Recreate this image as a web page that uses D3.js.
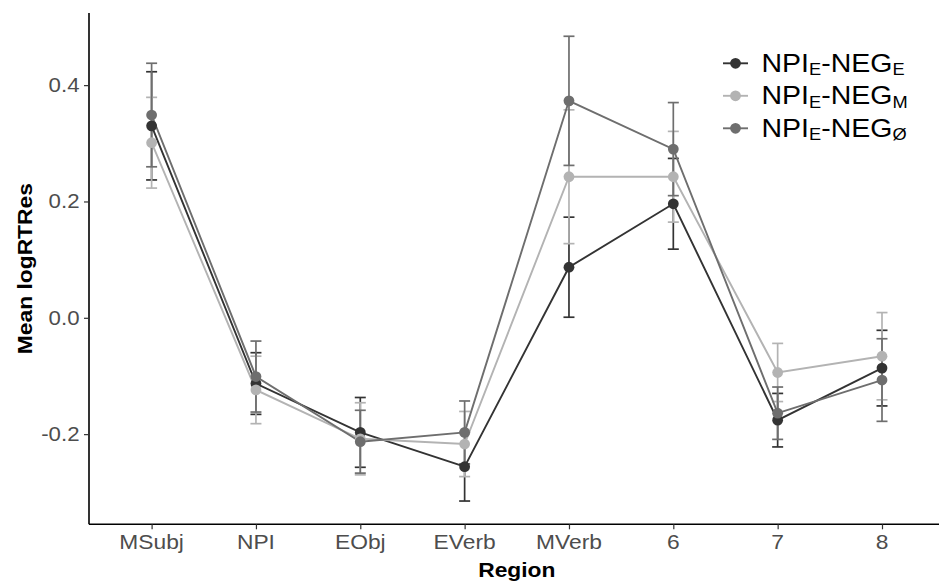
<!DOCTYPE html>
<html>
<head>
<meta charset="utf-8">
<script src="https://cdn.jsdelivr.net/npm/d3@7"></script>
<style>
  body { margin: 0; background: #fff; }
  text { font-family: "Liberation Sans", Arial, sans-serif; }
</style>
</head>
<body>
<svg width="939" height="581"></svg>
<script>
// regions on the x axis
var regions = ["MSubj", "NPI", "EObj", "EVerb", "MVerb", "6", "7", "8"];

// means and standard errors per condition
var meanE = [0.330, -0.113, -0.197, -0.256, 0.087, 0.196, -0.176, -0.0865];
var seE   = [0.093, 0.053, 0.060, 0.059, 0.086, 0.078, 0.046, 0.065];
var meanM = [0.301, -0.124, -0.208, -0.217, 0.2425, 0.2425, -0.094, -0.066];
var seM   = [0.078, 0.058, 0.062, 0.056, 0.115, 0.078, 0.050, 0.075];
var meanO = [0.3486, -0.101, -0.213, -0.197, 0.373, 0.290, -0.164, -0.107];
var seO   = [0.089, 0.061, 0.054, 0.054, 0.111, 0.080, 0.045, 0.071];

var subs = ["E", "M", "\u00D8"];
var yTicks = [-0.2, 0.0, 0.2, 0.4];

var series = [
    { sub: subs[0], mean: meanE, se: seE, color: "#333333" },
    { sub: subs[1], mean: meanM, se: seM, color: "#b3b3b3" },
    { sub: subs[2], mean: meanO, se: seO, color: "#6e6e6e" }
];

var svg = d3.select("svg"),
    width = +svg.attr("width"),
    height = +svg.attr("height");

var sx = 1.14; // text looks stretched a bit horizontally in the original

// panel edges (window.top is reserved, so no "top" here)
var pLeft = 89, pRight = 944.6, pTop = 13, pBottom = 524.3;

var x = d3.scalePoint()
    .domain(regions)
    .range([pLeft, pRight])
    .padding(0.6);

var y = d3.scaleLinear()
    .domain([-0.355, 0.524])
    .range([pBottom, pTop]);

// error bars
series.forEach(function (s) {
    var g = svg.append("g");
    regions.forEach(function (r, i) {
        var cx = x(r), lo = y(s.mean[i] - s.se[i]), hi = y(s.mean[i] + s.se[i]);
        g.append("line").attr("x1", cx).attr("x2", cx).attr("y1", lo).attr("y2", hi)
            .style("stroke", s.color).style("stroke-width", 1.7);
        g.append("line").attr("x1", cx - 5.5).attr("x2", cx + 5.5).attr("y1", lo).attr("y2", lo)
            .style("stroke", s.color).style("stroke-width", 1.7);
        g.append("line").attr("x1", cx - 5.5).attr("x2", cx + 5.5).attr("y1", hi).attr("y2", hi)
            .style("stroke", s.color).style("stroke-width", 1.7);
    });
});

// lines
var line = d3.line()
    .x(function (d, i) { return x(regions[i]); })
    .y(function (d) { return y(d); });

series.forEach(function (s) {
    svg.append("path")
        .attr("d", line(s.mean))
        .style("fill", "none")
        .style("stroke", s.color)
        .style("stroke-width", 1.9);
});

// points
series.forEach(function (s) {
    svg.append("g")
        .selectAll("circle")
        .data(s.mean)
        .enter().append("circle")
        .attr("cx", function (d, i) { return x(regions[i]); })
        .attr("cy", function (d) { return y(d); })
        .attr("r", 5.4)
        .style("fill", s.color);
});

// axes
var xAxis = svg.append("g")
    .attr("transform", "translate(0," + pBottom + ")")
    .call(d3.axisBottom(x).tickSize(5).tickSizeOuter(0));
xAxis.select(".domain").attr("d", "M" + pLeft + ",0H" + width)
    .style("stroke", "#000").style("stroke-width", 1.6);
xAxis.selectAll(".tick line").style("stroke", "#333").style("stroke-width", 1.2);
xAxis.selectAll(".tick text").remove();

var yAxis = svg.append("g")
    .attr("transform", "translate(" + pLeft + ",0)")
    .call(d3.axisLeft(y).tickValues(yTicks).tickSize(5).tickSizeOuter(0));
yAxis.select(".domain").attr("d", "M0," + pTop + "V" + pBottom)
    .style("stroke", "#000").style("stroke-width", 1.6);
yAxis.selectAll(".tick line").style("stroke", "#333").style("stroke-width", 1.2);
yAxis.selectAll(".tick text").remove();

// tick labels (drawn by hand so they can be stretched)
regions.forEach(function (r) {
    svg.append("text")
        .attr("transform", "translate(" + x(r) + ",549) scale(" + sx + ",1)")
        .attr("text-anchor", "middle")
        .style("font-size", "20px")
        .style("fill", "#4d4d4d")
        .text(r);
});
yTicks.forEach(function (t) {
    svg.append("text")
        .attr("transform", "translate(79.5," + (y(t) + 6.8) + ") scale(" + sx + ",1)")
        .attr("text-anchor", "end")
        .style("font-size", "19.5px")
        .style("fill", "#4d4d4d")
        .text(t.toFixed(1)); // plain hyphen for negatives, as in the original
});

// axis titles
svg.append("text")
    .attr("transform", "translate(" + ((pLeft + pRight) / 2) + ",576.5) scale(" + sx + ",1)")
    .attr("text-anchor", "middle")
    .style("font-size", "20px")
    .style("font-weight", "bold")
    .text("Region");

svg.append("text")
    .attr("transform", "translate(31.5," + ((pTop + pBottom) / 2) + ") rotate(-90) scale(" + sx + ",1)")
    .attr("text-anchor", "middle")
    .style("font-size", "20px")
    .style("font-weight", "bold")
    .text("Mean logRTRes");

// legend
var legendY = [63.3, 95.8, 128.3];
series.forEach(function (s, i) {
    var g = svg.append("g").attr("transform", "translate(0," + legendY[i] + ")");
    g.append("line").attr("x1", 723).attr("x2", 748).attr("y1", 0).attr("y2", 0)
        .style("stroke", s.color).style("stroke-width", 1.9);
    g.append("circle").attr("cx", 735.5).attr("cy", 0).attr("r", 5.4).style("fill", s.color);
    var t = g.append("text")
        .attr("transform", "translate(761.5,8.5) scale(" + sx + ",1)")
        .style("font-size", "25px")
        .style("fill", "#000");
    t.append("tspan").text("NPI");
    t.append("tspan").attr("dy", 3.5).style("font-size", "16px").text("E");
    t.append("tspan").attr("dy", -3.5).text("-NEG");
    t.append("tspan").attr("dy", 3.5).style("font-size", "16px").text(s.sub);
});
</script>
</body>
</html>
